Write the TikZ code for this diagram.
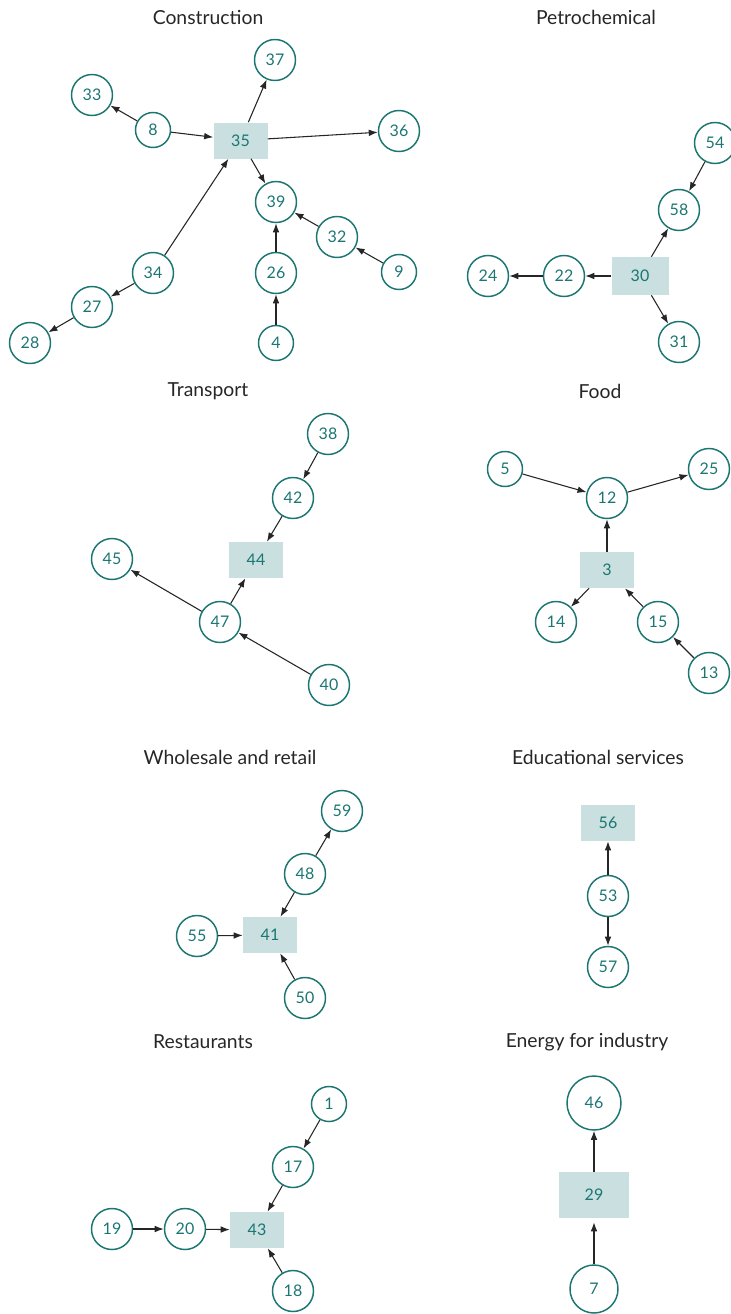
\documentclass[tikz,border=0pt]{standalone}
\usepackage{fontspec}
\setmainfont{Lato}
\usetikzlibrary{arrows.meta}
\definecolor{tealc}{HTML}{1B7672}
\definecolor{boxfill}{HTML}{C9DFE0}
\begin{document}
\begin{tikzpicture}[x=0.75pt,y=-0.75pt,
 big/.style={circle,draw=tealc,line width=1.1pt,minimum size=30.75pt,inner sep=0pt,text=tealc,font=\fontsize{12}{14}\selectfont},
 small/.style={big,minimum size=26.25pt},
 boxn/.style={rectangle,fill=boxfill,minimum width=40.5pt,minimum height=27pt,inner sep=0pt,text=tealc,font=\fontsize{12}{14}\selectfont},
 title/.style={font=\fontsize{14.5}{17}\selectfont,text=black!85},
 arr/.style={-{Latex[length=6.8pt,width=5pt]},line width=0.8pt,draw=black!85}]
\useasboundingbox (0,0) rectangle (731,1314);

% Construction
\node[title] (tc) at (208,17) {Construction};
\node[big] (n37) at (275,60) {37};
\node[big] (n33) at (92,95) {33};
\node[small] (n8) at (153,130) {8};
\node[boxn] (n35) at (240.5,140.5) {35};
\node[big] (n36) at (399,131) {36};
\node[big] (n39) at (276,202) {39};
\node[big] (n32) at (337,237) {32};
\node[small] (n9) at (399,272) {9};
\node[big] (n34) at (153,273) {34};
\node[big] (n26) at (276,273) {26};
\node[big] (n27) at (92,307) {27};
\node[big] (n28) at (30,343) {28};
\node[small] (n4) at (276,343) {4};
\draw[arr] (n8) -- (n33);
\draw[arr] (n8) -- (n35);
\draw[arr] (n35) -- (n37);
\draw[arr] (n35) -- (n36);
\draw[arr] (n35) -- (n39);
\draw[arr] (n34) -- (n35);
\draw[arr] (n34) -- (n27);
\draw[arr] (n27) -- (n28);
\draw[arr] (n26) -- (n39);
\draw[arr] (n4) -- (n26);
\draw[arr] (n32) -- (n39);
\draw[arr] (n9) -- (n32);

% Petrochemical
\node[title] (tp) at (596,17) {Petrochemical};
\node[big] (n54) at (715,143) {54};
\node[big] (n58) at (679,210) {58};
\node[big] (n24) at (488,276) {24};
\node[big] (n22) at (564,276) {22};
\node[boxn,minimum width=42.75pt,minimum height=28.5pt] (n30) at (640,276) {30};
\node[big] (n31) at (679,342) {31};
\draw[arr] (n54) -- (n58);
\draw[arr] (n30) -- (n58);
\draw[arr] (n30) -- (n22);
\draw[arr] (n22) -- (n24);
\draw[arr] (n30) -- (n31);

% Transport
\node[title] (tt) at (208,391) {Transport};
\node[big] (n38) at (328,434) {38};
\node[big] (n42) at (293,498) {42};
\node[boxn] (n44) at (256,560) {44};
\node[big] (n45) at (112,559) {45};
\node[big] (n47) at (220,622) {47};
\node[big] (n40) at (329,685) {40};
\draw[arr] (n38) -- (n42);
\draw[arr] (n42) -- (n44);
\draw[arr] (n47) -- (n44);
\draw[arr] (n47) -- (n45);
\draw[arr] (n40) -- (n47);

% Food
\node[title] (tf) at (600,391) {Food};
\node[small] (n5) at (505,469) {5};
\node[big] (n12) at (607,498) {12};
\node[big] (n25) at (709,469) {25};
\node[boxn] (n3) at (607,570) {3};
\node[big] (n14) at (556,622) {14};
\node[big] (n15) at (658,622) {15};
\node[big] (n13) at (709,673) {13};
\draw[arr] (n5) -- (n12);
\draw[arr] (n12) -- (n25);
\draw[arr] (n3) -- (n12);
\draw[arr] (n3) -- (n14);
\draw[arr] (n15) -- (n3);
\draw[arr] (n13) -- (n15);

% Wholesale and retail
\node[title] (tw) at (230,757) {Wholesale and retail};
\node[big] (n59) at (342,811) {59};
\node[big] (n48) at (305,874) {48};
\node[boxn] (n41) at (270,935) {41};
\node[big] (n55) at (197,936) {55};
\node[big] (n50) at (305,998) {50};
\draw[arr] (n48) -- (n59);
\draw[arr] (n48) -- (n41);
\draw[arr] (n55) -- (n41);
\draw[arr] (n50) -- (n41);

% Educational services
\node[title] (te) at (598,757) {Educational services};
\node[boxn] (n56) at (608,823) {56};
\node[big] (n53) at (608,896) {53};
\node[big] (n57) at (608,967) {57};
\draw[arr] (n53) -- (n56);
\draw[arr] (n53) -- (n57);

% Restaurants
\node[title] (tr) at (203,1042) {Restaurants};
\node[small] (n1) at (329,1104) {1};
\node[big] (n17) at (293,1167) {17};
\node[boxn] (n43) at (257,1230) {43};
\node[big] (n19) at (112,1229) {19};
\node[big] (n20) at (185,1229) {20};
\node[big] (n18) at (293,1291) {18};
\draw[arr] (n1) -- (n17);
\draw[arr] (n17) -- (n43);
\draw[arr] (n19) -- (n20);
\draw[arr] (n20) -- (n43);
\draw[arr] (n18) -- (n43);

% Energy for industry
\node[title] (ti) at (587,1042) {Energy for industry};
\node[big,minimum size=40.5pt] (n46) at (594,1103) {46};
\node[boxn,minimum width=52.5pt,minimum height=34.5pt] (n29) at (594,1195) {29};
\node[big,minimum size=36pt] (n7) at (594,1289) {7};
\draw[arr] (n29) -- (n46);
\draw[arr,shorten >=3pt] (n7) -- (n29);
\end{tikzpicture}
\end{document}
